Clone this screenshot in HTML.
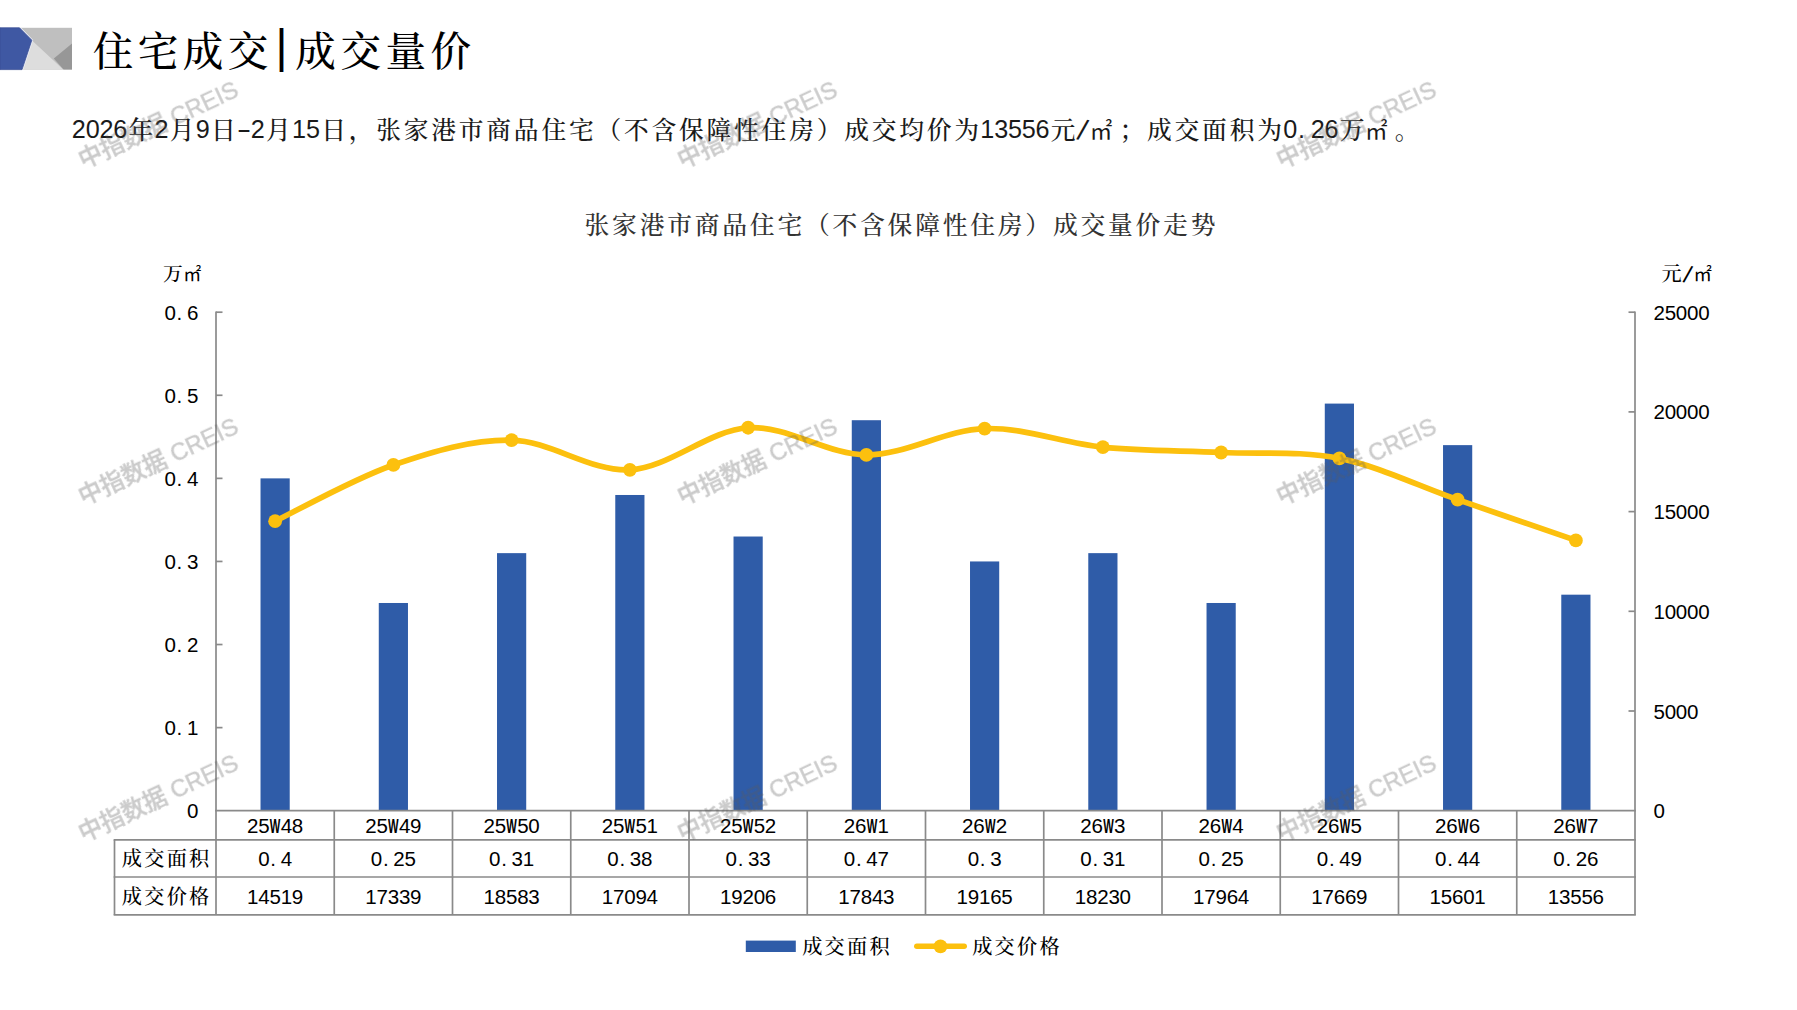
<!DOCTYPE html>
<html lang="zh-CN">
<head>
<meta charset="utf-8">
<title>住宅成交|成交量价</title>
<style>
html,body{margin:0;padding:0;background:#fff;}
body{width:1797px;height:1010px;overflow:hidden;}
svg{display:block;}
text{font-family:"Liberation Sans","Noto Sans CJK SC",sans-serif;}
.cj{font-family:"Liberation Serif","Noto Serif CJK SC",serif;font-weight:500;}
.cjb{font-weight:500;}
</style>
</head>
<body>
<svg width="1797" height="1010" viewBox="0 0 1797 1010">
<rect width="1797" height="1010" fill="#fff"/>
<g id="logo">
<rect x="21" y="27.8" width="51" height="41.8" fill="#bfbfbf"/>
<polygon points="31.8,40.2 63.2,69.6 21,69.6 21,40" fill="#dddddd"/>
<polygon points="72,43.5 53.8,58.6 63.6,69.6 72,69.6" fill="#979797"/>
<polyline points="19.5,27.8 31.8,40.2 22,69.6" fill="none" stroke="#e9edf8" stroke-width="2.4"/>
<polygon points="0,27.8 19.5,27.8 31.8,40.2 22,69.6 0,69.6" fill="#3f58a3" stroke="#3b4f95" stroke-width="0.8"/>
</g>
<text fill="#000" text-anchor="middle"><tspan class="cj cjb" font-size="40.55" y="66.10" x="112.93 157.97 203.03 248.08">住宅成交</tspan><tspan font-size="46.00" y="62.00" x="281.59">|</tspan><tspan class="cj cjb" font-size="40.55" y="66.10" x="315.65 360.70 405.75 450.80">成交量价</tspan></text>
<text fill="#1a1a1a" text-anchor="middle"><tspan font-size="25.19" y="138.40" x="78.88 92.65 106.41 120.18">2026</tspan><tspan class="cj" font-size="24.78" y="138.60" x="140.82">年</tspan><tspan font-size="25.19" y="138.40" x="161.47">2</tspan><tspan class="cj" font-size="24.78" y="138.60" x="182.12">月</tspan><tspan font-size="25.19" y="138.40" x="202.77">9</tspan><tspan class="cj" font-size="24.78" y="138.60" x="223.42">日</tspan><tspan text-anchor="start" font-size="25.19" y="138.26" x="236.77" textLength="14.59" lengthAdjust="spacingAndGlyphs">-</tspan><tspan font-size="25.19" y="138.40" x="257.83">2</tspan><tspan class="cj" font-size="24.78" y="138.60" x="278.48">月</tspan><tspan font-size="25.19" y="138.40" x="299.12 312.89">15</tspan><tspan class="cj" font-size="24.78" y="138.60" x="333.53 361.06 388.59 416.12 443.65 471.18 498.71 526.24 553.77 581.30 608.83 636.36 663.89 691.42 718.95 746.48 774.01 801.54 829.07 856.60 884.13 911.66 939.19 966.72">日，张家港市商品住宅（不含保障性住房）成交均价为</tspan><tspan font-size="25.19" y="138.40" x="987.37 1001.14 1014.90 1028.67 1042.43">13556</tspan><tspan class="cj" font-size="24.78" y="138.60" x="1063.08">元</tspan><tspan font-size="29.47" rotate="14" y="138.95" x="1080.42">/</tspan><tspan font-size="22.57" y="138.60" x="1101.07">㎡</tspan><tspan class="cj" font-size="24.78" y="138.60" x="1131.90 1159.43 1186.96 1214.49 1242.02 1269.55">；成交面积为</tspan><tspan font-size="25.19" y="138.40" x="1290.20 1301.49 1317.73 1331.50">0.26</tspan><tspan class="cj" font-size="24.78" y="138.60" x="1352.14">万</tspan><tspan font-size="22.57" y="138.60" x="1376.37">㎡</tspan><tspan class="cj" font-size="24.78" y="138.60" x="1407.20">。</tspan></text>
<text fill="#333" text-anchor="middle"><tspan class="cj" font-size="24.80" y="233.60" x="596.95 624.50 652.05 679.60 707.15 734.70 762.25 789.80 817.35 844.90 872.45 900.00 927.55 955.10 982.65 1010.20 1037.75 1065.30 1092.85 1120.40 1147.95 1175.50 1203.05">张家港市商品住宅（不含保障性住房）成交量价走势</tspan></text>
<g id="bars">
<rect x="260.52" y="478.37" width="29.2" height="332.33" fill="#2f5ca8"/>
<rect x="378.77" y="602.99" width="29.2" height="207.71" fill="#2f5ca8"/>
<rect x="497.02" y="553.14" width="29.2" height="257.56" fill="#2f5ca8"/>
<rect x="615.27" y="494.98" width="29.2" height="315.72" fill="#2f5ca8"/>
<rect x="733.52" y="536.52" width="29.2" height="274.18" fill="#2f5ca8"/>
<rect x="851.77" y="420.21" width="29.2" height="390.49" fill="#2f5ca8"/>
<rect x="970.02" y="561.45" width="29.2" height="249.25" fill="#2f5ca8"/>
<rect x="1088.28" y="553.14" width="29.2" height="257.56" fill="#2f5ca8"/>
<rect x="1206.53" y="602.99" width="29.2" height="207.71" fill="#2f5ca8"/>
<rect x="1324.78" y="403.59" width="29.2" height="407.11" fill="#2f5ca8"/>
<rect x="1443.03" y="445.13" width="29.2" height="365.57" fill="#2f5ca8"/>
<rect x="1561.28" y="594.68" width="29.2" height="216.02" fill="#2f5ca8"/>
</g>
<g id="grid" stroke="#8a8a8a" stroke-width="1.7" fill="none">
<line x1="216.0" y1="311.4" x2="216.0" y2="914.8"/>
<line x1="1635.0" y1="311.4" x2="1635.0" y2="914.8"/>
<line x1="216.0" y1="727.62" x2="222.5" y2="727.62"/>
<line x1="216.0" y1="644.53" x2="222.5" y2="644.53"/>
<line x1="216.0" y1="561.45" x2="222.5" y2="561.45"/>
<line x1="216.0" y1="478.37" x2="222.5" y2="478.37"/>
<line x1="216.0" y1="395.28" x2="222.5" y2="395.28"/>
<line x1="216.0" y1="312.20" x2="222.5" y2="312.20"/>
<line x1="1628.5" y1="711.00" x2="1635.0" y2="711.00"/>
<line x1="1628.5" y1="611.30" x2="1635.0" y2="611.30"/>
<line x1="1628.5" y1="511.60" x2="1635.0" y2="511.60"/>
<line x1="1628.5" y1="411.90" x2="1635.0" y2="411.90"/>
<line x1="1628.5" y1="312.20" x2="1635.0" y2="312.20"/>
<line x1="215.15" y1="810.7" x2="1635.85" y2="810.7"/>
<line x1="113.65" y1="839.8" x2="1635.85" y2="839.8"/>
<line x1="113.65" y1="877.0" x2="1635.85" y2="877.0"/>
<line x1="113.65" y1="914.8" x2="1635.85" y2="914.8"/>
<line x1="114.5" y1="839.8" x2="114.5" y2="914.8"/>
<line x1="334.25" y1="810.7" x2="334.25" y2="914.8"/>
<line x1="452.50" y1="810.7" x2="452.50" y2="914.8"/>
<line x1="570.75" y1="810.7" x2="570.75" y2="914.8"/>
<line x1="689.00" y1="810.7" x2="689.00" y2="914.8"/>
<line x1="807.25" y1="810.7" x2="807.25" y2="914.8"/>
<line x1="925.50" y1="810.7" x2="925.50" y2="914.8"/>
<line x1="1043.75" y1="810.7" x2="1043.75" y2="914.8"/>
<line x1="1162.00" y1="810.7" x2="1162.00" y2="914.8"/>
<line x1="1280.25" y1="810.7" x2="1280.25" y2="914.8"/>
<line x1="1398.50" y1="810.7" x2="1398.50" y2="914.8"/>
<line x1="1516.75" y1="810.7" x2="1516.75" y2="914.8"/>
</g>
<path d="M275.12,521.19 C294.83,511.82 353.96,478.47 393.38,464.96 C432.79,451.45 472.21,439.34 511.62,440.15 C551.04,440.97 590.46,471.92 629.88,469.85 C669.29,467.78 708.71,430.22 748.12,427.73 C787.54,425.24 826.96,454.77 866.38,454.91 C905.79,455.05 945.21,429.84 984.62,428.55 C1024.04,427.26 1063.46,443.20 1102.88,447.19 C1142.29,451.19 1181.71,450.63 1221.12,452.50 C1260.54,454.36 1299.96,450.53 1339.38,458.38 C1378.79,466.23 1418.21,485.95 1457.62,499.62 C1497.04,513.28 1556.17,533.60 1575.88,540.39" fill="none" stroke="#fcc00e" stroke-width="5.7" stroke-linecap="round" stroke-linejoin="round"/>
<circle cx="275.12" cy="521.19" r="6.9" fill="#fcc00e"/>
<circle cx="393.38" cy="464.96" r="6.9" fill="#fcc00e"/>
<circle cx="511.62" cy="440.15" r="6.9" fill="#fcc00e"/>
<circle cx="629.88" cy="469.85" r="6.9" fill="#fcc00e"/>
<circle cx="748.12" cy="427.73" r="6.9" fill="#fcc00e"/>
<circle cx="866.38" cy="454.91" r="6.9" fill="#fcc00e"/>
<circle cx="984.62" cy="428.55" r="6.9" fill="#fcc00e"/>
<circle cx="1102.88" cy="447.19" r="6.9" fill="#fcc00e"/>
<circle cx="1221.12" cy="452.50" r="6.9" fill="#fcc00e"/>
<circle cx="1339.38" cy="458.38" r="6.9" fill="#fcc00e"/>
<circle cx="1457.62" cy="499.62" r="6.9" fill="#fcc00e"/>
<circle cx="1575.88" cy="540.39" r="6.9" fill="#fcc00e"/>
<text fill="#000" text-anchor="middle"><tspan font-size="20.55" y="818.20" x="192.69">0</tspan></text>
<text fill="#000" text-anchor="middle"><tspan font-size="20.55" y="735.12" x="170.23 179.43 192.69">0.1</tspan></text>
<text fill="#000" text-anchor="middle"><tspan font-size="20.55" y="652.03" x="170.23 179.43 192.69">0.2</tspan></text>
<text fill="#000" text-anchor="middle"><tspan font-size="20.55" y="568.95" x="170.23 179.43 192.69">0.3</tspan></text>
<text fill="#000" text-anchor="middle"><tspan font-size="20.55" y="485.87" x="170.23 179.43 192.69">0.4</tspan></text>
<text fill="#000" text-anchor="middle"><tspan font-size="20.55" y="402.78" x="170.23 179.43 192.69">0.5</tspan></text>
<text fill="#000" text-anchor="middle"><tspan font-size="20.55" y="319.70" x="170.23 179.43 192.69">0.6</tspan></text>
<text fill="#000" text-anchor="middle"><tspan font-size="20.55" y="818.20" x="1659.12">0</tspan></text>
<text fill="#000" text-anchor="middle"><tspan font-size="20.55" y="718.50" x="1659.12 1670.35 1681.58 1692.81">5000</tspan></text>
<text fill="#000" text-anchor="middle"><tspan font-size="20.55" y="618.80" x="1659.12 1670.35 1681.58 1692.81 1704.04">10000</tspan></text>
<text fill="#000" text-anchor="middle"><tspan font-size="20.55" y="519.10" x="1659.12 1670.35 1681.58 1692.81 1704.04">15000</tspan></text>
<text fill="#000" text-anchor="middle"><tspan font-size="20.55" y="419.40" x="1659.12 1670.35 1681.58 1692.81 1704.04">20000</tspan></text>
<text fill="#000" text-anchor="middle"><tspan font-size="20.55" y="319.70" x="1659.12 1670.35 1681.58 1692.81 1704.04">25000</tspan></text>
<text fill="#000" text-anchor="middle"><tspan class="cj" font-size="19.80" y="281.30" x="172.90">万</tspan><tspan font-size="18.04" y="281.30" x="192.26">㎡</tspan></text>
<text fill="#000" text-anchor="middle"><tspan class="cj" font-size="20.21" y="280.80" x="1671.63">元</tspan><tspan font-size="24.04" rotate="14" y="281.75" x="1685.78">/</tspan><tspan font-size="18.42" y="280.80" x="1702.62">㎡</tspan></text>
<text fill="#000" text-anchor="middle"><tspan font-size="20.55" y="832.90" x="252.67 263.90">25</tspan><tspan font-weight="bold" text-anchor="start" font-size="20.55" y="832.90" x="269.85" textLength="10.56" lengthAdjust="spacingAndGlyphs">W</tspan><tspan font-size="20.55" y="832.90" x="286.36 297.59">48</tspan></text>
<text fill="#000" text-anchor="middle"><tspan font-size="20.55" y="866.00" x="263.89 273.10 286.36">0.4</tspan></text>
<text fill="#000" text-anchor="middle"><tspan font-size="20.55" y="903.60" x="252.67 263.90 275.13 286.36 297.59">14519</tspan></text>
<text fill="#000" text-anchor="middle"><tspan font-size="20.55" y="832.90" x="370.92 382.15">25</tspan><tspan font-weight="bold" text-anchor="start" font-size="20.55" y="832.90" x="388.10" textLength="10.56" lengthAdjust="spacingAndGlyphs">W</tspan><tspan font-size="20.55" y="832.90" x="404.61 415.84">49</tspan></text>
<text fill="#000" text-anchor="middle"><tspan font-size="20.55" y="866.00" x="376.53 385.74 398.99 410.22">0.25</tspan></text>
<text fill="#000" text-anchor="middle"><tspan font-size="20.55" y="903.60" x="370.92 382.15 393.38 404.61 415.84">17339</tspan></text>
<text fill="#000" text-anchor="middle"><tspan font-size="20.55" y="832.90" x="489.17 500.40">25</tspan><tspan font-weight="bold" text-anchor="start" font-size="20.55" y="832.90" x="506.35" textLength="10.56" lengthAdjust="spacingAndGlyphs">W</tspan><tspan font-size="20.55" y="832.90" x="522.86 534.09">50</tspan></text>
<text fill="#000" text-anchor="middle"><tspan font-size="20.55" y="866.00" x="494.78 503.99 517.24 528.47">0.31</tspan></text>
<text fill="#000" text-anchor="middle"><tspan font-size="20.55" y="903.60" x="489.17 500.40 511.63 522.86 534.09">18583</tspan></text>
<text fill="#000" text-anchor="middle"><tspan font-size="20.55" y="832.90" x="607.41 618.64">25</tspan><tspan font-weight="bold" text-anchor="start" font-size="20.55" y="832.90" x="624.60" textLength="10.56" lengthAdjust="spacingAndGlyphs">W</tspan><tspan font-size="20.55" y="832.90" x="641.11 652.34">51</tspan></text>
<text fill="#000" text-anchor="middle"><tspan font-size="20.55" y="866.00" x="613.03 622.24 635.49 646.72">0.38</tspan></text>
<text fill="#000" text-anchor="middle"><tspan font-size="20.55" y="903.60" x="607.41 618.64 629.88 641.11 652.34">17094</tspan></text>
<text fill="#000" text-anchor="middle"><tspan font-size="20.55" y="832.90" x="725.66 736.89">25</tspan><tspan font-weight="bold" text-anchor="start" font-size="20.55" y="832.90" x="742.85" textLength="10.56" lengthAdjust="spacingAndGlyphs">W</tspan><tspan font-size="20.55" y="832.90" x="759.36 770.59">52</tspan></text>
<text fill="#000" text-anchor="middle"><tspan font-size="20.55" y="866.00" x="731.28 740.49 753.74 764.97">0.33</tspan></text>
<text fill="#000" text-anchor="middle"><tspan font-size="20.55" y="903.60" x="725.66 736.89 748.12 759.36 770.59">19206</tspan></text>
<text fill="#000" text-anchor="middle"><tspan font-size="20.55" y="832.90" x="849.53 860.76">26</tspan><tspan font-weight="bold" text-anchor="start" font-size="20.55" y="832.90" x="866.71" textLength="10.56" lengthAdjust="spacingAndGlyphs">W</tspan><tspan font-size="20.55" y="832.90" x="883.22">1</tspan></text>
<text fill="#000" text-anchor="middle"><tspan font-size="20.55" y="866.00" x="849.53 858.74 871.99 883.22">0.47</tspan></text>
<text fill="#000" text-anchor="middle"><tspan font-size="20.55" y="903.60" x="843.91 855.14 866.38 877.61 888.84">17843</tspan></text>
<text fill="#000" text-anchor="middle"><tspan font-size="20.55" y="832.90" x="967.78 979.01">26</tspan><tspan font-weight="bold" text-anchor="start" font-size="20.55" y="832.90" x="984.96" textLength="10.56" lengthAdjust="spacingAndGlyphs">W</tspan><tspan font-size="20.55" y="832.90" x="1001.47">2</tspan></text>
<text fill="#000" text-anchor="middle"><tspan font-size="20.55" y="866.00" x="973.39 982.60 995.86">0.3</tspan></text>
<text fill="#000" text-anchor="middle"><tspan font-size="20.55" y="903.60" x="962.16 973.39 984.62 995.86 1007.09">19165</tspan></text>
<text fill="#000" text-anchor="middle"><tspan font-size="20.55" y="832.90" x="1086.03 1097.26">26</tspan><tspan font-weight="bold" text-anchor="start" font-size="20.55" y="832.90" x="1103.21" textLength="10.56" lengthAdjust="spacingAndGlyphs">W</tspan><tspan font-size="20.55" y="832.90" x="1119.72">3</tspan></text>
<text fill="#000" text-anchor="middle"><tspan font-size="20.55" y="866.00" x="1086.03 1095.24 1108.49 1119.72">0.31</tspan></text>
<text fill="#000" text-anchor="middle"><tspan font-size="20.55" y="903.60" x="1080.41 1091.64 1102.88 1114.11 1125.34">18230</tspan></text>
<text fill="#000" text-anchor="middle"><tspan font-size="20.55" y="832.90" x="1204.28 1215.51">26</tspan><tspan font-weight="bold" text-anchor="start" font-size="20.55" y="832.90" x="1221.46" textLength="10.56" lengthAdjust="spacingAndGlyphs">W</tspan><tspan font-size="20.55" y="832.90" x="1237.97">4</tspan></text>
<text fill="#000" text-anchor="middle"><tspan font-size="20.55" y="866.00" x="1204.28 1213.49 1226.74 1237.97">0.25</tspan></text>
<text fill="#000" text-anchor="middle"><tspan font-size="20.55" y="903.60" x="1198.66 1209.89 1221.12 1232.36 1243.59">17964</tspan></text>
<text fill="#000" text-anchor="middle"><tspan font-size="20.55" y="832.90" x="1322.53 1333.76">26</tspan><tspan font-weight="bold" text-anchor="start" font-size="20.55" y="832.90" x="1339.71" textLength="10.56" lengthAdjust="spacingAndGlyphs">W</tspan><tspan font-size="20.55" y="832.90" x="1356.22">5</tspan></text>
<text fill="#000" text-anchor="middle"><tspan font-size="20.55" y="866.00" x="1322.53 1331.74 1344.99 1356.22">0.49</tspan></text>
<text fill="#000" text-anchor="middle"><tspan font-size="20.55" y="903.60" x="1316.91 1328.14 1339.38 1350.61 1361.84">17669</tspan></text>
<text fill="#000" text-anchor="middle"><tspan font-size="20.55" y="832.90" x="1440.78 1452.01">26</tspan><tspan font-weight="bold" text-anchor="start" font-size="20.55" y="832.90" x="1457.96" textLength="10.56" lengthAdjust="spacingAndGlyphs">W</tspan><tspan font-size="20.55" y="832.90" x="1474.47">6</tspan></text>
<text fill="#000" text-anchor="middle"><tspan font-size="20.55" y="866.00" x="1440.78 1449.99 1463.24 1474.47">0.44</tspan></text>
<text fill="#000" text-anchor="middle"><tspan font-size="20.55" y="903.60" x="1435.16 1446.39 1457.62 1468.86 1480.09">15601</tspan></text>
<text fill="#000" text-anchor="middle"><tspan font-size="20.55" y="832.90" x="1559.03 1570.26">26</tspan><tspan font-weight="bold" text-anchor="start" font-size="20.55" y="832.90" x="1576.21" textLength="10.56" lengthAdjust="spacingAndGlyphs">W</tspan><tspan font-size="20.55" y="832.90" x="1592.72">7</tspan></text>
<text fill="#000" text-anchor="middle"><tspan font-size="20.55" y="866.00" x="1559.03 1568.24 1581.49 1592.72">0.26</tspan></text>
<text fill="#000" text-anchor="middle"><tspan font-size="20.55" y="903.60" x="1553.41 1564.64 1575.88 1587.11 1598.34">13556</tspan></text>
<text fill="#000" text-anchor="middle"><tspan class="cj" font-size="20.21" y="866.00" x="131.83 154.29 176.75 199.21">成交面积</tspan></text>
<text fill="#000" text-anchor="middle"><tspan class="cj" font-size="20.21" y="903.80" x="131.83 154.29 176.75 199.21">成交价格</tspan></text>
<rect x="745.8" y="940.6" width="50" height="11.4" fill="#2f5ca8"/>
<text fill="#000" text-anchor="middle"><tspan class="cj" font-size="20.21" y="954.00" x="812.23 834.69 857.15 879.61">成交面积</tspan></text>
<line x1="916.8" y1="946.3" x2="964.2" y2="946.3" stroke="#fcc00e" stroke-width="5.5" stroke-linecap="round"/>
<circle cx="940.5" cy="946.3" r="6.9" fill="#fcc00e"/>
<text fill="#000" text-anchor="middle"><tspan class="cj" font-size="20.21" y="954.00" x="982.23 1004.69 1027.15 1049.61">成交价格</tspan></text>
<g id="wm" fill="#5c5c5c" stroke="#5c5c5c" stroke-width="0.45" opacity="0.32" font-size="23.6" font-weight="500" text-anchor="middle">
<text transform="translate(158.0,123.9) rotate(-25)" x="0" y="9.3">中指数据 CREIS</text>
<text transform="translate(757.0,123.9) rotate(-25)" x="0" y="9.3">中指数据 CREIS</text>
<text transform="translate(1356.0,123.9) rotate(-25)" x="0" y="9.3">中指数据 CREIS</text>
<text transform="translate(158.0,460.6) rotate(-25)" x="0" y="9.3">中指数据 CREIS</text>
<text transform="translate(757.0,460.6) rotate(-25)" x="0" y="9.3">中指数据 CREIS</text>
<text transform="translate(1356.0,460.6) rotate(-25)" x="0" y="9.3">中指数据 CREIS</text>
<text transform="translate(158.0,797.2) rotate(-25)" x="0" y="9.3">中指数据 CREIS</text>
<text transform="translate(757.0,797.2) rotate(-25)" x="0" y="9.3">中指数据 CREIS</text>
<text transform="translate(1356.0,797.2) rotate(-25)" x="0" y="9.3">中指数据 CREIS</text>
</g>
</svg>
</body>
</html>
